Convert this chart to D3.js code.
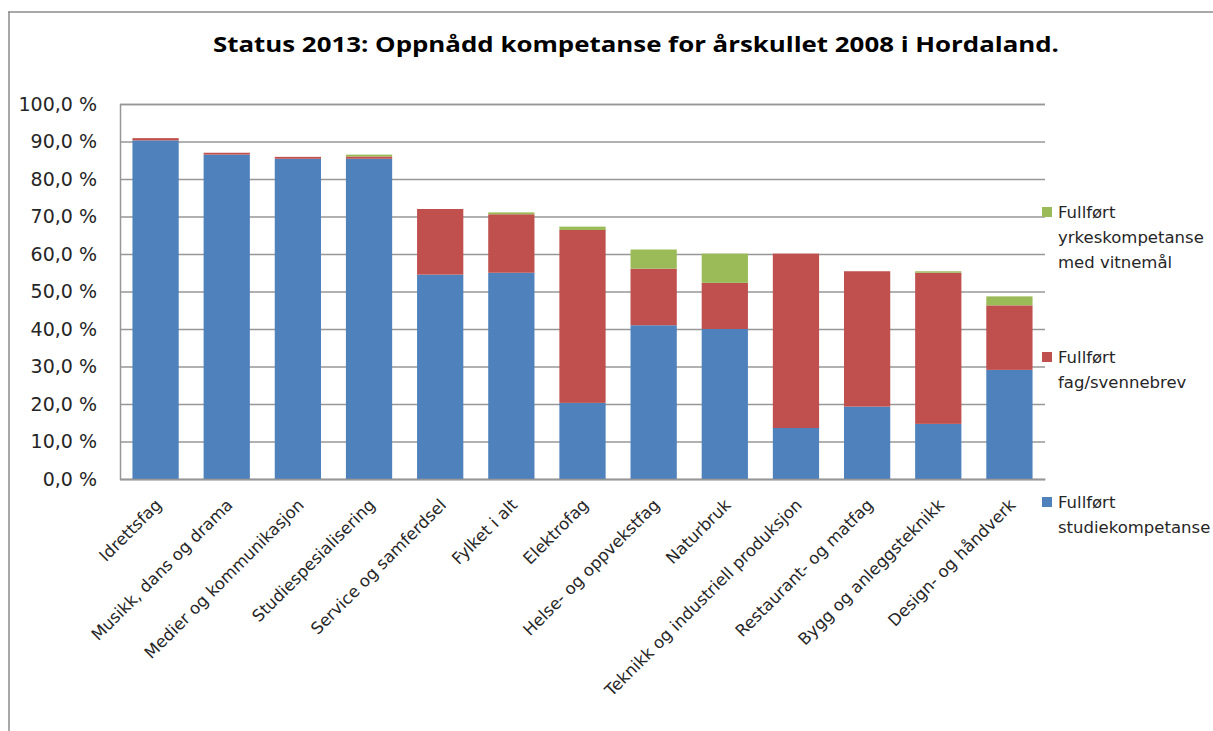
<!DOCTYPE html>
<html>
<head>
<meta charset="utf-8">
<script src="https://cdn.jsdelivr.net/npm/d3@7"></script>
<style>
  body { margin: 0; background: #fff; }
  text { font-family: "DejaVu Sans", Verdana, sans-serif; fill: #262626; }
</style>
</head>
<body>
<div id="chart"></div>
<script>
// DATA
const categories = ["Idrettsfag", "Musikk, dans og drama", "Medier og kommunikasjon", "Studiespesialisering",
  "Service og samferdsel", "Fylket i alt", "Elektrofag", "Helse- og oppvekstfag", "Naturbruk",
  "Teknikk og industriell produksjon", "Restaurant- og matfag", "Bygg og anleggsteknikk", "Design- og håndverk"]
const studie = [90.3, 86.5, 85.4, 85.4, 54.5, 55.0, 20.3, 41.0, 40.0, 13.6, 19.3, 14.7, 29.1]
const fag    = [0.6, 0.5, 0.5, 0.6, 17.5, 15.6, 46.1, 15.1, 12.3, 46.5, 36.1, 40.3, 17.2]
const yrke   = [0, 0, 0, 0.5, 0, 0.5, 0.9, 5.1, 7.8, 0, 0, 0.4, 2.4]
const yTicks = [0, 10, 20, 30, 40, 50, 60, 70, 80, 90, 100]
const seriesNames = ["studie", "fag", "yrke"]
const legendLabels = {
  yrke: ["Fullført", "yrkeskompetanse", "med vitnemål"],
  fag: ["Fullført", "fag/svennebrev"],
  studie: ["Fullført", "studiekompetanse"]
}
const title = "Status 2013: Oppnådd kompetanse for årskullet 2008 i Hordaland."

// CONSTANTS
const width = 1213
const height = 731
const plot = { left: 120, right: 1045, top: 104, bottom: 479 }
const colors = { studie: "#4f81bd", fag: "#c0504d", yrke: "#9bbb59" }
const gridColor = "#979797"

const svg = d3.select("#chart").append("svg").attr("width", width).attr("height", height)

// outer frame (top and left edge visible)
svg.append("path")
  .attr("d", `M8,12 H${width} M9,12 V${height}`)
  .attr("fill", "none").attr("stroke", "#8c8c8c").attr("stroke-width", 1.5)

// title
svg.append("text")
  .attr("x", 636).attr("y", 52)
  .attr("text-anchor", "middle")
  .attr("textLength", 846).attr("lengthAdjust", "spacingAndGlyphs")
  .style("font-family", "'Open Sans', sans-serif")
  .style("font-weight", "bold").style("font-size", "21px").style("fill", "#000")
  .text(title)

// SCALES
const x = d3.scaleBand().domain(categories).range([plot.left, plot.right])
  .paddingInner(0.35).paddingOuter(0.175)
const y = d3.scaleLinear().domain([0, 100]).range([plot.bottom, plot.top])

// Y AXIS + GRID
const yAxis = d3.axisLeft(y).tickValues(yTicks)
  .tickSize(-(plot.right - plot.left)).tickPadding(23)
  .tickFormat(d => d.toFixed(1).replace(".", ",") + " %")
const yAxisGroup = svg.append("g").attr("transform", `translate(${plot.left},0)`).call(yAxis)
yAxisGroup.select(".domain").attr("stroke", gridColor).attr("stroke-width", 1.5)
yAxisGroup.selectAll(".tick line").attr("stroke", gridColor).attr("stroke-width", 1.5)
yAxisGroup.selectAll(".tick text")
  .style("font-size", "19px").style("font-family", "'DejaVu Sans', sans-serif").attr("fill", "#262626")

// STACKED BARS
const table = categories.map((c, i) => ({ cat: c, studie: studie[i], fag: fag[i], yrke: yrke[i] }))
const stacked = d3.stack().keys(seriesNames)(table)

svg.append("g").selectAll("g").data(stacked).join("g")
  .attr("fill", d => colors[d.key])
  .selectAll("rect").data(d => d).join("rect")
    .attr("x", d => x(d.data.cat))
    .attr("y", d => y(d[1]))
    .attr("width", x.bandwidth())
    .attr("height", d => y(d[0]) - y(d[1]))

// X AXIS
const xAxis = d3.axisBottom(x).tickSize(0).tickPadding(0)
const xAxisGroup = svg.append("g").attr("transform", `translate(0,${plot.bottom})`).call(xAxis)
xAxisGroup.select(".domain").attr("stroke", gridColor).attr("stroke-width", 1.5)
xAxisGroup.selectAll(".tick text")
  .attr("y", 0).attr("dy", 0)
  .attr("text-anchor", "end")
  .attr("transform", "translate(7,27) rotate(-45)")
  .style("font-size", "16.5px").style("font-family", "'DejaVu Sans', sans-serif").attr("fill", "#262626")

// LEGEND
const legendPos = { yrke: 212, fag: 357, studie: 502 }
const legend = svg.append("g")
seriesNames.forEach(k => {
  const g = legend.append("g").attr("transform", `translate(1042,${legendPos[k]})`)
  g.append("rect").attr("x", 0).attr("y", -5).attr("width", 10).attr("height", 10).attr("fill", colors[k])
  legendLabels[k].forEach((t, i) => {
    g.append("text").attr("x", 16).attr("y", i * 25)
      .attr("dominant-baseline", "central")
      .style("font-size", "16.5px")
      .text(t)
  })
})
</script>
</body>
</html>
